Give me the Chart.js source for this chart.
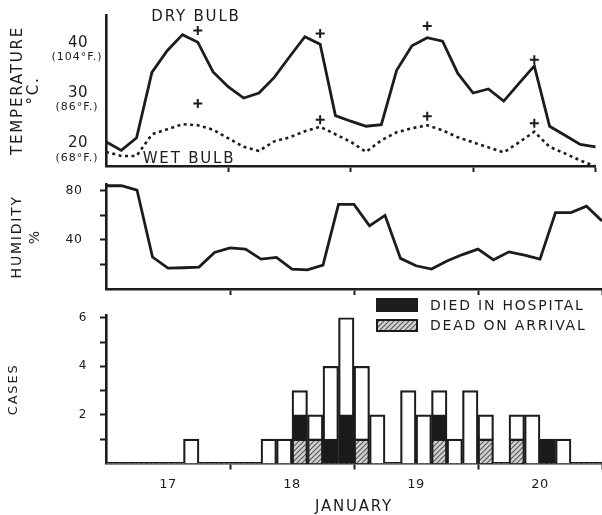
<!DOCTYPE html>
<html><head><meta charset="utf-8">
<style>
html,body{margin:0;padding:0;background:#fff;}
#wrap{position:relative;width:602px;height:515px;overflow:hidden;background:#fff;}
canvas{position:absolute;left:0;top:0;}
</style>
<script src="https://cdn.jsdelivr.net/npm/chart.js@4.4.0/dist/chart.umd.min.js"></script>
</head><body>
<div id="wrap">
<canvas id="temp" width="602" height="515"></canvas>
<canvas id="hum" width="602" height="515"></canvas>
<canvas id="cases" width="602" height="515"></canvas>
</div>
<script>
// ---- data (hours from midnight starting 17 January) ----
const hours = [0,3,6,9,12,15,18,21,24,27,30,33,36,39,42,45,48,51,54,57,60,63,66,69,72,75,78,81,84,87,90,93,96];
const dryBulb = [20.3,18.6,21.1,34.1,38.4,41.6,40.1,34.2,31.2,29.0,30.0,33.1,37.2,41.2,39.7,25.5,24.4,23.4,23.7,34.5,39.4,41.0,40.3,33.9,30.0,30.8,28.4,31.9,35.4,23.4,21.6,19.8,19.3];
const wetBulb = [18.3,17.5,17.5,21.8,22.8,23.8,23.6,22.7,21.0,19.3,18.5,20.4,21.2,22.4,23.3,21.8,20.3,18.3,20.6,22.2,23.0,23.6,22.6,21.2,20.2,19.2,18.2,20.2,22.3,19.3,18.0,16.6,15.4];
const humidity = [84,84,80.5,26,17,17.3,17.8,29.7,33.4,32.4,24.3,25.7,16.2,15.6,19.4,68.8,68.8,51.3,59.9,24.9,18.9,16.2,22.8,28,32.4,23.7,30.2,27.5,24.3,62.1,62.1,67.4,55.3];
const maxHours = [18,42,63,84];
const dryBulbPlus = [42.4,41.8,43.3,36.6];
const wetBulbPlus = [27.9,24.7,25.4,24.0];

const binHours = [1.5,4.5,7.5,10.5,13.5,16.5,19.5,22.5,25.5,28.5,31.5,34.5,37.5,40.5,43.5,46.5,49.5,52.5,55.5,58.5,61.5,64.5,67.5,70.5,73.5,76.5,79.5,82.5,85.5,88.5,91.5,94.5];
const deadOnArrival  = [0,0,0,0,0,0,0,0,0,0, 0,0,1,1,0,0,1,0,0,0, 0,1,0,0,1,0,1,0,0,0, 0,0];
const diedInHospital = [0,0,0,0,0,0,0,0,0,0, 0,0,1,0,1,2,0,0,0,0, 0,1,0,0,0,0,0,0,1,0, 0,0];
const otherCases     = [0,0,0,0,0,1,0,0,0,0, 1,1,1,1,3,4,3,2,0,3, 2,1,1,3,1,0,1,2,0,1, 0,0];

const dayLabels = ['17','18','19','20'];
const dayLabelHours = [12,36,60,84];
const dayBoundaryHours = [24,48,72,96];
const tempTicks = [20,30,40];
const fahrenheitLabels = ['(68°F.)','(86°F.)','(104°F.)'];
const humidityTicks = [20,40,60,80];
const humidityLabelTicks = [40,80];
const caseTicks = [1,2,3,4,5,6];
const caseLabelTicks = [2,4,6];

// ---- style ----
const ink = '#1c1c1c';
const FAM = "'DejaVu Sans', sans-serif";
Chart.defaults.font.family = FAM;
Chart.defaults.color = ink;

const spacingPlugin = {
  id: 'spacing',
  beforeDraw(chart) {
    const ctx = chart.ctx;
    if (ctx._wrappedText) return;
    const orig = ctx.fillText;
    ctx.fillText = function (t, x, y, w) {
      const prev = this.letterSpacing;
      const s = String(t);
      this.letterSpacing = /^[0-9]+$/.test(s) ? '0.5px' : (s.charAt(0) === '(' ? '1px' : '1.8px');
      if (w === undefined) orig.call(this, t, x, y); else orig.call(this, t, x, y, w);
      this.letterSpacing = prev;
    };
    ctx._wrappedText = true;
  }
};

function xScale(showLabels, height) {
  return {
    type: 'linear', min: 0, max: 96, offset: false,
    afterBuildTicks: s => { s.ticks = dayLabelHours.concat(dayBoundaryHours).sort((a,b)=>a-b).map(v => ({value: v})); },
    afterFit: s => { s.height = height; s.paddingLeft = 0; s.paddingRight = 0; s.paddingTop = 0; s.paddingBottom = 0; },
    ticks: {
      autoSkip: false, maxRotation: 0, padding: 7.5,
      font: {size: 13},
      callback: v => { const i = dayLabelHours.indexOf(v); return (showLabels && i >= 0) ? dayLabels[i] : ''; }
    },
    grid: {
      drawOnChartArea: false, drawTicks: true, tickLength: 6, tickWidth: 2, offset: false,
      tickColor: c => (c.tick && dayBoundaryHours.includes(c.tick.value)) ? ink : 'rgba(0,0,0,0)'
    },
    border: {display: true, color: ink, width: 2.6}
  };
}
function yScale(min, max, ticks, labelTicks, opts) {
  return {
    type: 'linear', min, max,
    afterBuildTicks: s => { s.ticks = ticks.map(v => ({value: v})); },
    afterFit: s => { s.width = 106; s.paddingTop = 0; s.paddingBottom = 0; s.paddingLeft = 0; s.paddingRight = 0; },
    ticks: {
      padding: opts.padding, font: {size: opts.fontSize},
      callback: v => labelTicks.includes(v) ? String(v) : ''
    },
    grid: {drawOnChartArea: false, drawTicks: opts.drawTicks, tickLength: 6, tickWidth: 2, tickColor: ink},
    border: {display: true, color: ink, width: 2.6},
    title: {display: true, text: opts.title, font: {size: opts.titleSize, lineHeight: opts.lh}, padding: {top: opts.tpad, bottom: 0}, color: ink}
  };
}
const pts = (xs, ys) => xs.map((x, i) => ({x, y: ys[i]}));

// ---- temperature panel ----
const tempNotes = {
  id: 'tempNotes',
  afterDraw(chart) {
    const {ctx, scales: {y}} = chart;
    ctx.save();
    ctx.fillStyle = ink; ctx.textAlign = 'center'; ctx.textBaseline = 'middle';
    ctx.font = "11px " + FAM;
    tempTicks.forEach((v, i) => ctx.fillText(fahrenheitLabels[i], 77, y.getPixelForValue(v) + 14.5));
    ctx.font = "15px " + FAM;
    ctx.fillText('DRY BULB', 196, 17);
    ctx.fillText('WET BULB', 189, 159);
    ctx.restore();
  }
};
new Chart(document.getElementById('temp'), {
  type: 'line',
  data: {datasets: [
    {label: 'Dry bulb', data: pts(hours, dryBulb), borderColor: ink, borderWidth: 2.8, pointRadius: 0, tension: 0, clip: false, fill: false},
    {label: 'Wet bulb', data: pts(hours, wetBulb), borderColor: ink, borderWidth: 2.6, borderDash: [3, 3.5], pointRadius: 0, tension: 0, clip: false, fill: false},
    {type: 'scatter', label: 'Dry bulb max', data: pts(maxHours, dryBulbPlus), pointStyle: 'cross', pointRadius: 4.5, borderColor: ink, borderWidth: 2, clip: false},
    {type: 'scatter', label: 'Wet bulb max', data: pts(maxHours, wetBulbPlus), pointStyle: 'cross', pointRadius: 4.5, borderColor: ink, borderWidth: 2, clip: false}
  ]},
  options: {
    responsive: false, animation: false, devicePixelRatio: 1,
    layout: {padding: {top: 15, right: 0, bottom: 329, left: 0}},
    plugins: {legend: {display: false}, tooltip: {enabled: false}},
    scales: {
      x: xScale(false, 20),
      y: yScale(15.5, 45.5, tempTicks, tempTicks, {padding: 18, fontSize: 15, drawTicks: false, title: ['TEMPERATURE', '°C.'], titleSize: 15, lh: 1.05, tpad: 10})
    }
  },
  plugins: [spacingPlugin, tempNotes]
});

// ---- humidity panel ----
new Chart(document.getElementById('hum'), {
  type: 'line',
  data: {datasets: [
    {label: 'Humidity', data: pts(hours, humidity), borderColor: ink, borderWidth: 2.8, pointRadius: 0, tension: 0, clip: false, fill: false}
  ]},
  options: {
    responsive: false, animation: false, devicePixelRatio: 1,
    layout: {padding: {top: 184.5, right: 0, bottom: 206, left: 0}},
    plugins: {legend: {display: false}, tooltip: {enabled: false}},
    scales: {
      x: xScale(false, 20),
      y: yScale(0, 85, humidityTicks, humidityLabelTicks, {padding: 17.5, fontSize: 12.5, drawTicks: true, title: ['HUMIDITY', '%'], titleSize: 14, lh: 1.3, tpad: 8})
    }
  },
  plugins: [spacingPlugin]
});

// ---- cases panel ----
const casesCanvas = document.getElementById('cases');
function makeHatch(target) {
  const c = document.createElement('canvas'); c.width = 5; c.height = 5;
  const g = c.getContext('2d');
  g.fillStyle = '#d2d2d2'; g.fillRect(0, 0, 5, 5);
  g.strokeStyle = '#555'; g.lineWidth = 1.1;
  g.beginPath(); g.moveTo(0, 5); g.lineTo(5, 0); g.moveTo(-1, 1); g.lineTo(1, -1); g.moveTo(4, 6); g.lineTo(6, 4); g.stroke();
  return target.getContext('2d').createPattern(c, 'repeat');
}
const hatch = makeHatch(casesCanvas);
const barBorder = c => (c.raw && c.raw.y) ? 2.2 : 0;
const legendPlugin = {
  id: 'legendBoxes',
  afterDraw(chart) {
    const ctx = chart.ctx;
    const ds = chart.data.datasets;
    ctx.save();
    ctx.fillStyle = ink; ctx.fillRect(376, 298, 42, 14);
    ctx.fillStyle = hatch; ctx.fillRect(376, 319, 42, 13);
    ctx.strokeStyle = ink; ctx.lineWidth = 2; ctx.strokeRect(377, 320, 40, 11);
    ctx.fillStyle = ink; ctx.font = "14px " + FAM; ctx.textAlign = 'left'; ctx.textBaseline = 'middle';
    ctx.fillText(ds[1].label, 430, 306);
    ctx.fillText(ds[0].label, 430, 326.5);
    ctx.restore();
  }
};
new Chart(casesCanvas, {
  type: 'bar',
  data: {datasets: [
    {label: 'DEAD ON ARRIVAL', data: pts(binHours, deadOnArrival), backgroundColor: hatch, borderColor: ink, borderWidth: barBorder},
    {label: 'DIED IN HOSPITAL', data: pts(binHours, diedInHospital), backgroundColor: '#1a1a1a', borderColor: ink, borderWidth: barBorder},
    {label: 'OTHER CASES', data: pts(binHours, otherCases), backgroundColor: '#ffffff', borderColor: ink, borderWidth: barBorder}
  ]},
  options: {
    responsive: false, animation: false, devicePixelRatio: 1,
    layout: {padding: {top: 315.3, right: 0, bottom: 0, left: 0}},
    datasets: {bar: {barPercentage: 1, categoryPercentage: 1}},
    plugins: {legend: {display: false}, tooltip: {enabled: false}},
    scales: {
      x: Object.assign(xScale(true, 51.5), {stacked: true,
        title: {display: true, text: 'JANUARY', font: {size: 15, lineHeight: 1}, padding: {top: 0, bottom: 0}, color: ink}}),
      y: Object.assign(yScale(0, 6.1, caseTicks, caseLabelTicks, {padding: 13, fontSize: 12, drawTicks: true, title: 'CASES', titleSize: 13, lh: 1.2, tpad: 6}), {stacked: true})
    }
  },
  plugins: [spacingPlugin, legendPlugin]
});
</script>
</body></html>
